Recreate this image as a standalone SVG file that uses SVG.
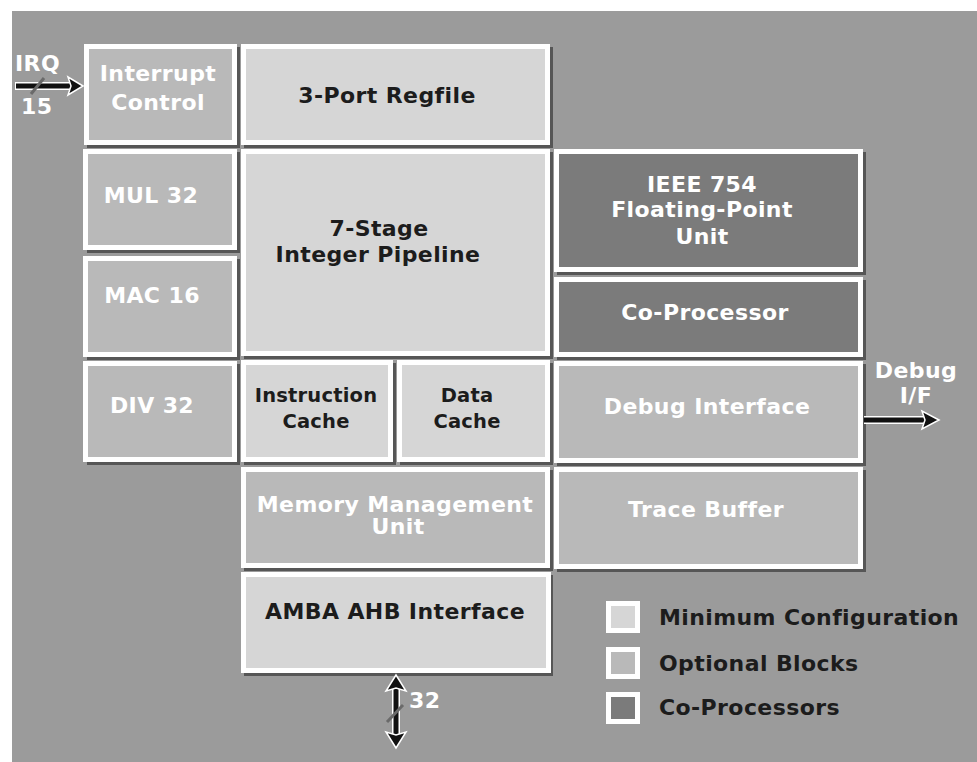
<svg xmlns="http://www.w3.org/2000/svg" width="977" height="762" viewBox="0 0 977 762">
  <defs>
    <style>
      .shadow { fill: #565656; }
      .box { stroke: #ffffff; stroke-width: 5; }
      .min { fill: #d6d6d6; }
      .opt { fill: #b9b9b9; }
      .cop { fill: #7b7b7b; }
      text { font-family: "DejaVu Sans", "Liberation Sans", Arial, sans-serif; font-weight: bold; font-size: 22px; letter-spacing: 0.4px; text-anchor: middle; }
      .dark { fill: #1c1c1c; }
      .light { fill: #ffffff; }
      .legend { text-anchor: start; }
      .cache { font-size: 19.5px; letter-spacing: 0.2px; }
      .wire-halo { stroke: #ffffff; stroke-width: 8; fill: none; }
      .wire { stroke: #111111; stroke-width: 5; fill: none; }
      .head { fill: #111111; stroke: #ffffff; stroke-width: 1.5; stroke-linejoin: miter; }
      .slash { stroke: #6a6a6a; stroke-width: 3; }
    </style>
  </defs>

  <!-- canvas -->
  <rect x="0" y="0" width="977" height="762" fill="#ffffff"/>
  <rect x="12" y="11" width="965" height="751" fill="#9b9b9b"/>

  <!-- left column: optional arithmetic blocks -->
  <g id="interrupt-control">
    <rect class="shadow" x="87" y="47" width="153" height="101"/>
    <rect class="box opt" x="86.5" y="46.5" width="148" height="96"/>
    <text class="light" x="158" y="81">Interrupt</text>
    <text class="light" x="158" y="110">Control</text>
  </g>
  <g id="mul32">
    <rect class="shadow" x="87" y="152" width="153" height="101"/>
    <rect class="box opt" x="85.5" y="151.5" width="149" height="96"/>
    <text class="light" x="151" y="203">MUL 32</text>
  </g>
  <g id="mac16">
    <rect class="shadow" x="87" y="259" width="153" height="101"/>
    <rect class="box opt" x="85.5" y="258.5" width="149" height="96"/>
    <text class="light" x="152" y="303">MAC 16</text>
  </g>
  <g id="div32">
    <rect class="shadow" x="87" y="364" width="153" height="101"/>
    <rect class="box opt" x="85.5" y="363.5" width="149" height="96"/>
    <text class="light" x="152" y="413">DIV 32</text>
  </g>

  <!-- centre column: core -->
  <g id="regfile">
    <rect class="shadow" x="244" y="47" width="309" height="101"/>
    <rect class="box min" x="243.5" y="46.5" width="304" height="96"/>
    <text class="dark" x="387" y="103">3-Port Regfile</text>
  </g>
  <g id="pipeline">
    <rect class="shadow" x="244" y="152" width="309" height="207"/>
    <rect class="box min" x="243.5" y="151.5" width="304" height="202"/>
    <text class="dark" x="379" y="236">7-Stage</text>
    <text class="dark" x="378" y="262">Integer Pipeline</text>
  </g>
  <g id="icache">
    <rect class="shadow" x="244" y="363" width="152" height="102"/>
    <rect class="box min" x="243.5" y="362.5" width="147" height="97"/>
    <text class="dark cache" x="316" y="402">Instruction</text>
    <text class="dark cache" x="316" y="428">Cache</text>
  </g>
  <g id="dcache">
    <rect class="shadow" x="400" y="363" width="153" height="102"/>
    <rect class="box min" x="399.5" y="362.5" width="148" height="97"/>
    <text class="dark cache" x="467" y="402">Data</text>
    <text class="dark cache" x="467" y="428">Cache</text>
  </g>
  <g id="mmu">
    <rect class="shadow" x="244" y="470" width="309" height="101"/>
    <rect class="box opt" x="243.5" y="469.5" width="304" height="96"/>
    <text class="light" x="395" y="512">Memory Management</text>
    <text class="light" x="398" y="534">Unit</text>
  </g>
  <g id="ahb">
    <rect class="shadow" x="244" y="575" width="309" height="101"/>
    <rect class="box min" x="243.5" y="574.5" width="305" height="96"/>
    <text class="dark" x="395" y="619">AMBA AHB Interface</text>
  </g>

  <!-- right column: co-processors and debug -->
  <g id="fpu">
    <rect class="shadow" x="557" y="152" width="309" height="123"/>
    <rect class="box cop" x="556.5" y="151.5" width="304" height="118"/>
    <text class="light" x="702" y="192">IEEE 754</text>
    <text class="light" x="702" y="217">Floating-Point</text>
    <text class="light" x="702" y="244">Unit</text>
  </g>
  <g id="coprocessor">
    <rect class="shadow" x="557" y="280" width="309" height="80"/>
    <rect class="box cop" x="556.5" y="279.5" width="304" height="75"/>
    <text class="light" x="705" y="320">Co-Processor</text>
  </g>
  <g id="debug-interface">
    <rect class="shadow" x="557" y="364" width="309" height="102"/>
    <rect class="box opt" x="556.5" y="363.5" width="304" height="97"/>
    <text class="light" x="707" y="414">Debug Interface</text>
  </g>
  <g id="trace-buffer">
    <rect class="shadow" x="557" y="470" width="309" height="102"/>
    <rect class="box opt" x="556.5" y="469.5" width="304" height="97"/>
    <text class="light" x="706" y="517">Trace Buffer</text>
  </g>

  <!-- legend -->
  <g id="legend">
    <rect class="box min" x="608.5" y="603.5" width="29" height="27"/>
    <text class="dark legend" x="659" y="625">Minimum Configuration</text>
    <rect class="box opt" x="608.5" y="649.5" width="29" height="27"/>
    <text class="dark legend" x="659" y="671">Optional Blocks</text>
    <rect class="box cop" x="608.5" y="694.5" width="29" height="27"/>
    <text class="dark legend" x="659" y="715">Co-Processors</text>
  </g>

  <!-- external signals -->
  <g id="connectors">
    <!-- IRQ bus into interrupt control -->
    <line class="wire-halo" x1="15" y1="86" x2="70" y2="86"/>
    <line class="wire" x1="16" y1="86" x2="71" y2="86"/>
    <polygon class="head" points="83,86 68,77 71,86 68,95"/>
    <line class="slash" x1="31" y1="94" x2="44" y2="78"/>
    <text class="light legend" x="15" y="71">IRQ</text>
    <text class="light legend" x="21" y="114">15</text>

    <!-- debug port out -->
    <line class="wire-halo" x1="864" y1="420" x2="924" y2="420"/>
    <line class="wire" x1="864" y1="420" x2="925" y2="420"/>
    <polygon class="head" points="939,420 922,411 925,420 922,429"/>
    <text class="light" x="916" y="378">Debug</text>
    <text class="light" x="916" y="403">I/F</text>

    <!-- 32-bit AHB bus -->
    <line class="wire-halo" x1="396" y1="688" x2="396" y2="734"/>
    <line class="wire" x1="396" y1="687" x2="396" y2="735"/>
    <polygon class="head" points="396,675 386,691 396,688 406,691"/>
    <polygon class="head" points="396,748 386,732 396,735 406,732"/>
    <line class="slash" x1="387" y1="722" x2="403" y2="705"/>
    <text class="light legend" x="409" y="708">32</text>
  </g>
</svg>
